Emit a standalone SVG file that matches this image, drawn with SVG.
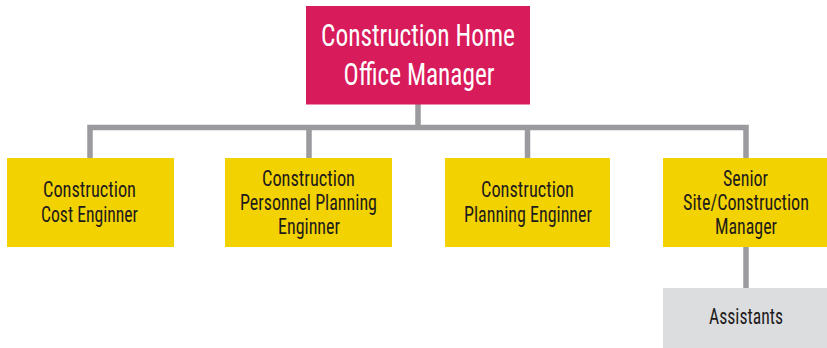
<svg xmlns="http://www.w3.org/2000/svg" width="827" height="348" viewBox="0 0 827 348">
<style>
.t{font-family:"Liberation Sans Narrow","Roboto Condensed","DejaVu Sans Condensed","Liberation Sans",sans-serif;text-anchor:middle}
.y{fill:#F2D200}
.d{fill:#1E1B1C;font-size:21.5px}
.w{fill:#FFFFFF;font-size:31px}
.c{fill:none;stroke:#9B9B9F;stroke-width:5.5}
</style>
<rect width="827" height="348" fill="#FFFFFF"/>
<g id="connectors">
<path class="c" d="M418 104V127.5M90 158V127.5H746V158M309 127.5V158M527.5 127.5V158M746 247V288"/>
</g>
<g id="manager">
<rect x="306" y="6" width="224" height="98.5" fill="#D81B5B"/>
<text class="t w" x="418" y="46" textLength="194" lengthAdjust="spacingAndGlyphs">Construction Home</text>
<text class="t w" x="419" y="85" textLength="151" lengthAdjust="spacingAndGlyphs">Office Manager</text>
</g>
<g id="cost">
<rect class="y" x="7" y="158" width="167" height="89"/>
<text class="t d" x="89.5" y="197" textLength="93" lengthAdjust="spacingAndGlyphs">Construction</text>
<text class="t d" x="89.5" y="222" textLength="97" lengthAdjust="spacingAndGlyphs">Cost Enginner</text>
</g>
<g id="personnel">
<rect class="y" x="225" y="158" width="167" height="89"/>
<text class="t d" x="308.5" y="186" textLength="93" lengthAdjust="spacingAndGlyphs">Construction</text>
<text class="t d" x="308.5" y="210" textLength="137" lengthAdjust="spacingAndGlyphs">Personnel Planning</text>
<text class="t d" x="309" y="234" textLength="62" lengthAdjust="spacingAndGlyphs">Enginner</text>
</g>
<g id="planning">
<rect class="y" x="445" y="158" width="165" height="89"/>
<text class="t d" x="527.5" y="197" textLength="93" lengthAdjust="spacingAndGlyphs">Construction</text>
<text class="t d" x="528" y="222" textLength="128" lengthAdjust="spacingAndGlyphs">Planning Enginner</text>
</g>
<g id="senior">
<rect class="y" x="663" y="158" width="164" height="89"/>
<text class="t d" x="745.5" y="186" textLength="45" lengthAdjust="spacingAndGlyphs">Senior</text>
<text class="t d" x="746" y="210" textLength="126" lengthAdjust="spacingAndGlyphs">Site/Construction</text>
<text class="t d" x="746" y="234" textLength="62" lengthAdjust="spacingAndGlyphs">Manager</text>
</g>
<g id="assistants">
<rect x="663" y="288" width="164" height="60" fill="#DCDDDF"/>
<text class="t d" x="746" y="324" textLength="74" lengthAdjust="spacingAndGlyphs">Assistants</text>
</g>
</svg>
